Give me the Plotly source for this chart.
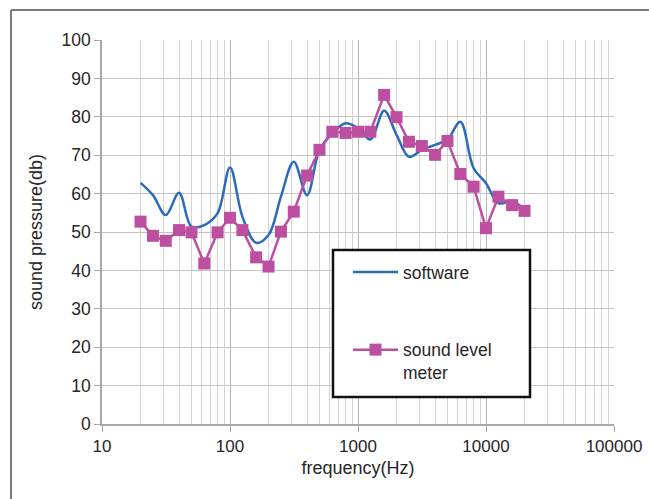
import plotly.graph_objects as go

freq = [20, 25, 31.5, 40, 50, 63, 80, 100, 125, 160, 200, 250, 315, 400, 500, 630,
        800, 1000, 1250, 1600, 2000, 2500, 3150, 4000, 5000, 6300, 8000, 10000,
        12500, 16000, 20000]

software = [62.8, 59.6, 54.4, 60.2, 51.4, 51.8, 54.9, 66.8, 54.0, 47.2, 49.2, 59.2,
            68.3, 59.6, 71.4, 75.7, 78.3, 77.0, 74.1, 81.6, 75.3, 69.6, 71.4, 72.7,
            74.1, 78.7, 66.6, 62.7, 57.5, 57.9, 56.0]

meter = [52.7, 49.0, 47.7, 50.5, 49.9, 41.8, 49.9, 53.7, 50.5, 43.4, 41.0, 50.1,
         55.3, 64.7, 71.4, 76.1, 75.8, 76.1, 76.1, 85.7, 79.9, 73.5, 72.4, 70.1,
         73.7, 65.1, 61.8, 51.0, 59.2, 57.0, 55.5]

y_ticks = [0, 10, 20, 30, 40, 50, 60, 70, 80, 90, 100]
x_ticks = [10, 100, 1000, 10000, 100000]
x_tick_labels = ["10", "100", "1000", "10000", "100000"]
x_minor = [m * d for d in [10, 100, 1000, 10000] for m in range(2, 10)]

BLUE = "#2B6CB8"
MAGENTA = "#BC4FA0"
FONT = "Liberation Sans, Arial, sans-serif"
TXT = "#262626"

fig = go.Figure()
fig.add_trace(go.Scatter(
    x=freq, y=software, mode="lines", name="software",
    line=dict(color=BLUE, width=2.5, shape="spline", smoothing=1.0),
    legendgroup="a",
))
fig.add_trace(go.Scatter(
    x=freq, y=meter, mode="lines+markers", name="sound level<br>meter",
    line=dict(color=MAGENTA, width=2.5),
    marker=dict(symbol="square", size=12, color=MAGENTA),
    legendgroup="b",
))

W, H = 649, 499
L, R, T, B = 102, 35, 40, 75
pw, ph = W - L - R, H - T - B

def sx(p):
    return (p - L) / pw

def sy(p):
    return (H - B - p) / ph

fig.update_layout(
    width=W, height=H,
    margin=dict(l=L, r=R, t=T, b=B, autoexpand=False),
    paper_bgcolor="white", plot_bgcolor="white",
    font=dict(family=FONT, size=17.5, color=TXT),
    showlegend=True,
    legend=dict(
        x=sx(348), y=sy(254), xanchor="left", yanchor="top",
        borderwidth=0, bgcolor="rgba(0,0,0,0)",
        font=dict(family=FONT, size=17.5, color=TXT),
        tracegroupgap=52, itemwidth=45, valign="top",
    ),
    xaxis=dict(
        type="log", range=[1, 5], automargin=False,
        tickvals=x_ticks, ticktext=x_tick_labels,
        ticklabeloverflow="allow",
        showgrid=True, gridcolor="#B4B4B4", gridwidth=1.3,
        minor=dict(tickvals=x_minor, showgrid=True, gridcolor="#D4D4D4",
                   gridwidth=1.3, ticks=""),
        showline=True, linecolor="#A8A8A8", linewidth=1.5,
        ticks="outside", ticklen=6, tickcolor="#A8A8A8",
        zeroline=False,
        title=dict(text="frequency(Hz)", font=dict(size=18), standoff=6),
        tickfont=dict(size=17),
    ),
    yaxis=dict(
        range=[0, 100], tickvals=y_ticks, automargin=False,
        showgrid=True, gridcolor="#C4C4C4", gridwidth=1.3,
        showline=True, linecolor="#A8A8A8", linewidth=1.5,
        ticks="outside", ticklen=6, tickcolor="#A8A8A8",
        zeroline=False,
        title=dict(text="sound pressure(db)", font=dict(size=18), standoff=14),
        tickfont=dict(size=17.5),
    ),
    shapes=[
        # outer chart frame
        dict(type="line", xref="paper", yref="paper",
             x0=sx(11), x1=sx(11), y0=sy(10), y1=sy(H + 30),
             line=dict(color="#7A7A7A", width=2)),
        dict(type="line", xref="paper", yref="paper",
             x0=sx(11), x1=sx(W + 30), y0=sy(10), y1=sy(10),
             line=dict(color="#7A7A7A", width=2)),
        # legend box
        dict(type="rect", xref="paper", yref="paper", layer="above",
             x0=sx(333), x1=sx(530), y0=sy(397), y1=sy(250),
             fillcolor="white", line=dict(color="#111111", width=2.5)),
    ],
)

fig.write_html(
    "out.html",
    config={"displayModeBar": False},
    post_script="document.body.style.margin='0';document.body.style.overflow='hidden';",
)
